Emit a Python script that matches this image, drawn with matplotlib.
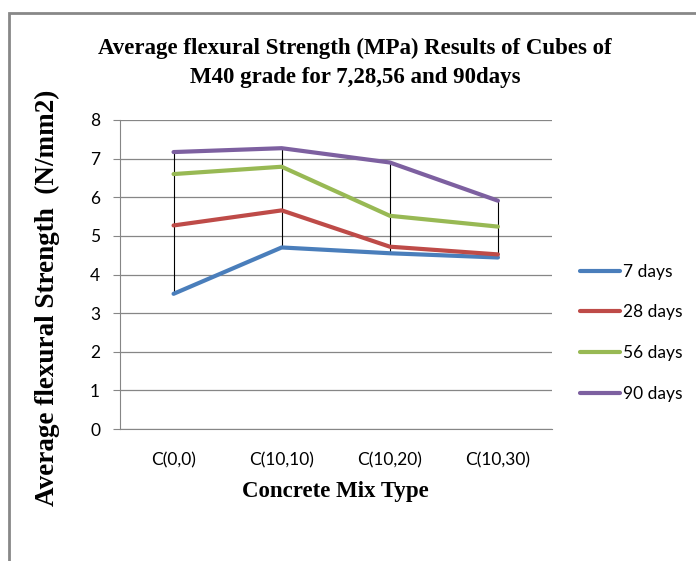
import numpy as np
import matplotlib
matplotlib.use("Agg")
from matplotlib import pyplot as plt
from matplotlib.patches import Rectangle

categories = ["C(0,0)", "C(10,10)", "C(10,20)", "C(10,30)"]
days_7 = [3.50, 4.70, 4.55, 4.44]
days_28 = [5.27, 5.66, 4.72, 4.52]
days_56 = [6.60, 6.79, 5.52, 5.24]
days_90 = [7.17, 7.27, 6.90, 5.91]
series_names = ["7 days", "28 days", "56 days", "90 days"]
colors = ["#4A7EBB", "#BE4B48", "#98B954", "#7D60A0"]

fig = plt.figure(figsize=(6.96, 5.61), dpi=100)
W, H = 696, 561
ax = fig.add_axes([119.5 / W, 1 - 429 / H, (552 - 119.5) / W, (429 - 120) / H])

x = np.arange(len(categories))
all_series = [days_7, days_28, days_56, days_90]

# high-low lines
lo = np.min(all_series, axis=0)
hi = np.max(all_series, axis=0)
ax.vlines(x, lo, hi, color="black", lw=0.8, zorder=2)

for vals, name, c in zip(all_series, series_names, colors):
    ax.plot(x, vals, color=c, lw=3, label=name, zorder=3, solid_capstyle="round")

ax.set_xlim(-0.5, 3.5)
ax.set_ylim(0, 8)
ax.set_yticks(range(0, 9))
ax.set_xticks(x)
ax.set_xticklabels(categories)
ax.yaxis.grid(True, color="#868686", lw=0.9)
ax.set_axisbelow(True)
for s in ["top", "right"]:
    ax.spines[s].set_visible(False)
ax.spines["left"].set_color("#868686")
ax.spines["bottom"].set_color("#868686")
ax.tick_params(axis="y", length=5, color="#868686", labelsize=12.5, pad=9)
ax.tick_params(axis="x", length=0, labelsize=12.5, pad=17)
for lab in ax.get_xticklabels() + ax.get_yticklabels():
    lab.set_family("Lato")

ax.set_xlabel("Concrete Mix Type", family="Liberation Serif", fontweight="bold",
              fontsize=16.5, labelpad=9)
ax.set_ylabel("Average flexural Strength  (N/mm2)", family="Liberation Serif",
              fontweight="bold", fontsize=19.5)
ax.yaxis.set_label_coords(-0.138, 0.424)

fig.text(355 / W, 1 - 63 / H,
         "Average flexural Strength (MPa) Results of Cubes of\nM40 grade for 7,28,56 and 90days",
         ha="center", va="center", family="Liberation Serif", fontweight="bold",
         fontsize=16.5, linespacing=1.5)

leg = fig.legend(loc="upper left", bbox_to_anchor=(564 / W, 1 - 248 / H),
                 frameon=False, prop={"family": "Lato", "size": 12.5},
                 handlelength=2.3, handletextpad=0.2, labelspacing=1.42)

# outer chart frame
fig.patches.append(Rectangle((8.5 / W, -0.05), 1.0, 1 - 13 / H + 0.05,
                             transform=fig.transFigure, fill=False,
                             edgecolor="#888888", lw=2))

fig.savefig("out.png", dpi=100)
